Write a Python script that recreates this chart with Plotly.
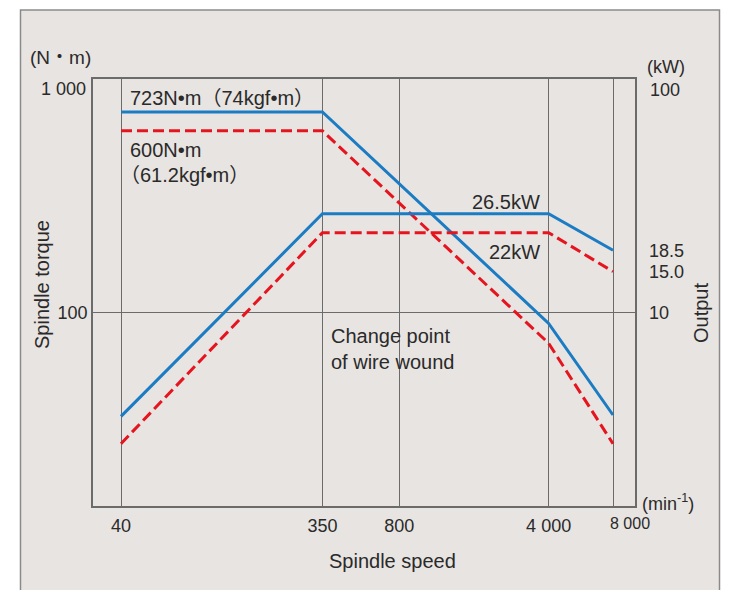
import plotly.graph_objects as go
import math

# ---- data ----
speed = [40, 350, 4000, 8000]                 # min^-1 (corner points)
torque_26_5kw = [723, 723, 90, 36.5]          # N·m, solid blue
torque_22kw = [600, 600, 74, 27.5]            # N·m, dashed red
output_26_5kw = [3.6, 26.5, 26.5, 18.5]       # kW, solid blue
output_22kw = [2.75, 22, 22, 15.0]            # kW, dashed red

x_ticks = [40, 350, 800, 4000]
x_tick_text = ["40", "350", "800", "4 000"]
y_torque_ticks = [100]
y_output_ticks = [10, 15.0, 18.5]
y_output_text = ["10", "15.0", "18.5"]

BLUE = "#1b7cc4"
RED = "#e5141e"
TXT = "#2a2a2a"
FONT = "Liberation Sans, Arial, Noto Sans CJK JP, sans-serif"

W, H = 732, 590
L, R, T, B = 93, 635, 79, 506  # plot area in pixels


def px(x):
    return (x - L) / (R - L)


def py(y):
    return (B - y) / (B - T)


lg = math.log10

fig = go.Figure()
fig.add_trace(go.Scatter(x=speed, y=torque_26_5kw, mode="lines",
                         line=dict(color=BLUE, width=3), yaxis="y",
                         showlegend=False, hoverinfo="skip"))
fig.add_trace(go.Scatter(x=speed, y=torque_22kw, mode="lines",
                         line=dict(color=RED, width=3, dash="11px,5px"), yaxis="y",
                         showlegend=False, hoverinfo="skip"))
fig.add_trace(go.Scatter(x=speed, y=output_26_5kw, mode="lines",
                         line=dict(color=BLUE, width=3), yaxis="y2",
                         showlegend=False, hoverinfo="skip"))
fig.add_trace(go.Scatter(x=speed, y=output_22kw, mode="lines",
                         line=dict(color=RED, width=3, dash="11px,5px"), yaxis="y2",
                         showlegend=False, hoverinfo="skip"))

# axis ranges: 40 -> left gridline, 8000 -> right gridline
xr = [1.4711, 4.006]
y_low = 3 - (B - T) / 233.7
yr = [y_low, 3]
y2r = [y_low - 1, 2]

fig.update_layout(
    width=W, height=H,
    margin=dict(l=L, r=W - R, t=T, b=H - B),
    paper_bgcolor="white",
    plot_bgcolor="#f3f6ec",
    font=dict(family=FONT, size=18, color=TXT),
    xaxis=dict(type="log", range=xr, tickvals=x_ticks + [8000],
               ticktext=x_tick_text + [""], showgrid=True, gridcolor="#6b6b6b",
               gridwidth=1, showline=True, linecolor="#6b6b6b", linewidth=1.5,
               mirror=True, ticks="", ticklabelstandoff=3, zeroline=False,
               tickfont=dict(size=18, color=TXT)),
    yaxis=dict(type="log", range=yr, tickvals=y_torque_ticks, ticktext=["100"],
               showgrid=True, gridcolor="#6b6b6b", gridwidth=1, showline=True,
               linecolor="#6b6b6b", linewidth=1.5, mirror=True, ticks="",
               ticklabelstandoff=0, zeroline=False, tickfont=dict(size=18, color=TXT)),
    yaxis2=dict(type="log", range=y2r, overlaying="y", side="right",
                tickvals=y_output_ticks, ticktext=y_output_text, showgrid=False,
                showline=False, ticks="", ticklabelstandoff=13, zeroline=False,
                tickfont=dict(size=18, color=TXT)),
)

# outer grey panel
fig.add_shape(type="rect", xref="paper", yref="paper",
              x0=px(20.5), x1=px(719.5), y0=py(600), y1=py(10),
              fillcolor="#e8e4e1", line=dict(color="#8a8a8a", width=1.5),
              layer="below")

ann = []


def add(text, x, y, xref="paper", yref="paper", xanchor="center", yanchor="middle",
        size=18, angle=0, xshift=0, yshift=0, align="left"):
    ann.append(dict(text=text, x=x, y=y, xref=xref, yref=yref, xanchor=xanchor,
                    yanchor=yanchor, showarrow=False, textangle=angle,
                    xshift=xshift, yshift=yshift, align=align,
                    font=dict(family=FONT, size=size, color=TXT)))


# axis units / titles
add("(N・m)", px(28), py(58), xanchor="left", size=19)
add("1 000", px(88), py(89), xanchor="right", size=18)
add("Spindle torque", px(42), py(285), angle=-90, size=20)
add("(kW)", px(645), py(67), xanchor="left", size=18)
add("100", px(648), py(90), xanchor="left", size=18)
add("Output", px(701), py(313), angle=-90, size=20)
add("(min<sup>-1</sup>)", px(640), py(502), xanchor="left", size=18)
add("Spindle speed", px(392), py(561), size=20)
add("8 000", lg(8000), py(523), xref="x", xshift=17, size=16)

# curve labels (log axes: annotation positions are given in log10 units)
add("723N•m（74kgf•m）", lg(speed[0]), lg(torque_26_5kw[0]), xref="x", yref="y",
    xanchor="left", xshift=7, yshift=14, size=20)
add("600N•m", lg(speed[0]), lg(torque_22kw[0]), xref="x", yref="y",
    xanchor="left", xshift=7, yshift=-19, size=20)
add("（61.2kgf•m）", lg(speed[0]), lg(torque_22kw[0]), xref="x", yref="y",
    xanchor="left", xshift=-3, yshift=-44, size=20)
add("26.5kW", lg(speed[2]), lg(output_26_5kw[2]), xref="x", yref="y2",
    xanchor="right", xshift=-7, yshift=12, size=20)
add("22kW", lg(speed[2]), lg(output_22kw[2]), xref="x", yref="y2",
    xanchor="right", xshift=-7, yshift=-19, size=20)
add("Change point<br>of wire wound", lg(800), lg(100), xref="x", yref="y",
    xanchor="center", xshift=-7, yshift=-36, size=20)

fig.update_layout(annotations=ann)
fig.write_html("out.html", config={"displayModeBar": False},
               post_script="document.body.style.margin='0';")
